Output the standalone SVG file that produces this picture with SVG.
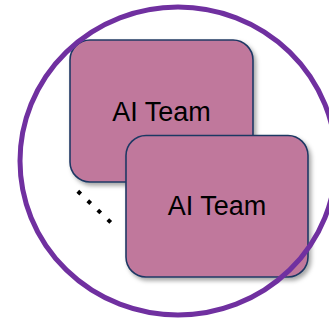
<svg xmlns="http://www.w3.org/2000/svg" width="329" height="322" viewBox="0 0 329 322">
  <style>
    .team rect { fill: #C0789C; stroke: #1F3864; stroke-width: 1.6; }
    .team text { font-family: "Liberation Sans", Arial, sans-serif; font-size: 27px; fill: #000; text-anchor: middle; }
    .ring { fill: none; stroke: #7030A0; stroke-width: 5; }
    .ellipsis { stroke: #000; stroke-width: 4; stroke-dasharray: 4 9.75; fill: none; }
  </style>
  <defs>
    <filter id="shadow" x="-10%" y="-10%" width="125%" height="130%">
      <feDropShadow dx="2.5" dy="3" stdDeviation="2" flood-color="#000" flood-opacity="0.35"/>
    </filter>
  </defs>
  <rect width="329" height="322" fill="#fff"/>

  <!-- more teams implied by the dotted trail -->
  <g id="more-teams">
    <line class="ellipsis" x1="77.8" y1="191.3" x2="110.8" y2="222.4"/>
  </g>

  <g id="team-back" class="team">
    <rect x="70" y="40" width="183" height="142" rx="20" ry="20" filter="url(#shadow)"/>
    <text x="161.5" y="121">AI Team</text>
  </g>

  <g id="team-front" class="team">
    <rect x="126" y="135.5" width="182" height="141.5" rx="20" ry="20" filter="url(#shadow)"/>
    <text x="217" y="215">AI Team</text>
  </g>

  <g id="connectors"></g>

  <!-- enclosing boundary -->
  <g id="boundary">
    <ellipse class="ring" cx="178" cy="161" rx="158" ry="154"/>
  </g>
</svg>
